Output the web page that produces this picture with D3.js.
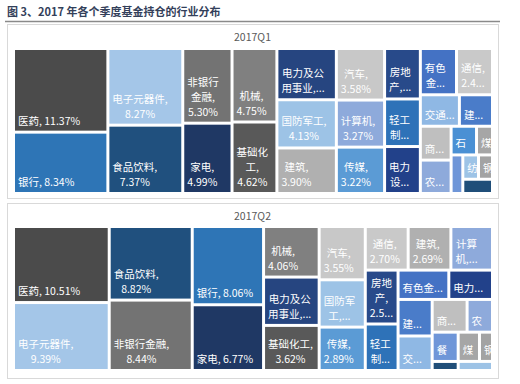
<!DOCTYPE html>
<html>
<head>
<meta charset="utf-8">
<script src="https://cdn.jsdelivr.net/npm/d3@7"></script>
<style>
  body { margin: 0; background: #fff; }
  svg { display: block; }
  text { font-family: "Noto Sans CJK SC", "Noto Sans", sans-serif; }
</style>
</head>
<body>
<svg id="chart" width="520" height="384"></svg>
<script>
const titleText = '图 3、2017 年各个季度基金持仓的行业分布';
const quarterLabels = ['2017Q1', '2017Q2'];

// 2017Q1 holdings by sector (%), in the order the treemap lays them out
const q1Sectors = ['医药', '银行', '电子元器件', '食品饮料', '非银行金融', '家电', '机械', '基础化工',
  '电力及公用事业', '国防军工', '建筑', '汽车', '计算机', '传媒', '房地产', '轻工制造', '电力设备',
  '有色金属', '通信', '交通运输', '建材', '商贸零售', '农林牧渔', '石油石化', '煤炭', '餐饮旅游',
  '纺织服装', '钢铁', '综合'];
const q1Values = [11.37, 8.34, 8.27, 7.37, 5.30, 4.99, 4.75, 4.62,
  4.39, 4.13, 3.90, 3.58, 3.27, 3.22, 2.60, 2.45, 2.42,
  2.41, 2.40, 1.77, 1.50, 1.50, 1.48, 1.05, 0.66, 0.65,
  0.55, 0.49, 0.61];
// cells per strip, and whether each strip is a column (c) or a row (r)
const q1Rows = [2, 2, 2, 2, 3, 3, 3, 2, 2, 2, 2, 1, 2, 1];
const q1Dirs = 'cccccccrrcrcrr';

// 2017Q2
const q2Sectors = ['医药', '电子元器件', '食品饮料', '非银行金融', '银行', '家电', '机械', '电力及公用事业',
  '基础化工', '汽车', '国防军工', '传媒', '通信', '建筑', '计算机', '房地产', '轻工制造', '有色金属',
  '电力设备', '建材', '交通运输', '商贸零售', '农林牧渔', '餐饮旅游', '综合', '煤炭', '钢铁', '纺织服装'];
const q2Values = [10.51, 9.39, 8.82, 8.44, 8.06, 6.77, 4.06, 3.88,
  3.62, 3.55, 3.15, 2.89, 2.70, 2.69, 2.62, 2.55, 2.20, 2.15,
  1.85, 1.80, 1.70, 1.65, 1.20, 1.10, 0.34, 0.90, 0.55, 0.45];
const q2Rows = [2, 2, 2, 3, 3, 3, 2, 2, 2, 2, 2, 2, 1];
const q2Dirs = 'cccccrcrcrcrr';

const sectorColor = d3.scaleOrdinal()
  .domain(['医药', '银行', '电子元器件', '食品饮料', '非银行金融', '家电', '机械', '基础化工',
    '电力及公用事业', '国防军工', '建筑', '汽车', '计算机', '传媒', '房地产', '轻工制造', '电力设备',
    '有色金属', '通信', '交通运输', '建材', '商贸零售', '农林牧渔', '石油石化', '煤炭', '餐饮旅游',
    '纺织服装', '钢铁', '综合'])
  .range(['#4b4b4b', '#2e75b6', '#a4c6e8', '#20507e', '#737373', '#1f3864', '#808080', '#595959',
    '#264580', '#9dc3e6', '#b0b0b0', '#c8c8c8', '#8eaadb', '#5b9bd5', '#284a8a', '#2e72b8', '#22418a',
    '#4472c4', '#c9c9c9', '#8fb8e4', '#4a7cc9', '#bfbfbf', '#8eaadb', '#4a90d4', '#a6a6a6', '#6f96d8',
    '#9dc3e6', '#a3a3a3', '#1f4e79']);

const W = 520, H = 384;
const fontSize = 10.5, lineH = 15;
const pct = (v) => d3.format('.2f')(v) + '%';

const svg = d3.select('#chart');

const ctx = document.createElement('canvas').getContext('2d');
ctx.font = `${fontSize}px "Noto Sans CJK SC"`;
const tw = (s) => ctx.measureText(s).width;

// Excel-like strips: columns eat the width from the left, rows eat the height from the top
const stripTile = (rows, dirs) => (parent, x0, y0, x1, y1) => {
  const nodes = parent.children;
  let rest = parent.value, i = 0;
  rows.forEach((k, r) => {
    const strip = { children: nodes.slice(i, i + k) };
    strip.value = d3.sum(strip.children, (d) => d.value);
    const last = r === rows.length - 1;
    if (dirs[r] === 'r') {
      const y = last ? y1 : y0 + (y1 - y0) * strip.value / rest;
      d3.treemapDice(strip, x0, y0, x1, y);
      y0 = y;
    } else {
      const x = last ? x1 : x0 + (x1 - x0) * strip.value / rest;
      d3.treemapSlice(strip, x0, y0, x, y1);
      x0 = x;
    }
    rest -= strip.value;
    i += k;
  });
};

function fit(s, maxW, ellipsis) {
  if (!ellipsis && tw(s) <= maxW) return s;
  let t = [...s];
  while (t.length > 1 && tw(t.join('') + '...') > maxW) t.pop();
  if (tw(t.join('') + '...') <= maxW) return t.join('') + '...';
  t = [...s];
  while (t.length > 1 && tw(t.join('')) > maxW) t.pop();
  return t.join('');
}

function wrapLabel(d) {
  const cw = d.x1 - d.x0, ch = d.y1 - d.y0;
  if (cw < 10 || ch < 13) return [];
  const maxW = cw - 5;
  const maxLines = Math.max(1, Math.floor((ch - 5) / lineH));
  const chars = [...d.data.name];
  chars[chars.length - 1] += ',';
  const tokens = [...chars, ' ' + pct(d.value)];
  const lines = [];
  let line = '';
  tokens.forEach((t) => {
    const next = line + t;
    if (line && tw(next) > maxW) {
      lines.push(line);
      line = t.trim();
    } else {
      line = line ? next : t.trim();
    }
  });
  if (line) lines.push(line);
  const cut = lines.length > maxLines;
  const out = lines.slice(0, maxLines);
  return out.map((s, i) => fit(s, maxW, cut && i === out.length - 1));
}

svg.append('rect').attr('width', W).attr('height', H).attr('fill', '#fff');

svg.append('text')
  .attr('x', 7)
  .attr('y', 16)
  .attr('font-size', 11)
  .attr('font-weight', 'bold')
  .attr('fill', '#33405a')
  .text(titleText);

svg.append('line')
  .attr('x1', 5).attr('x2', 500)
  .attr('y1', 21.5).attr('y2', 21.5)
  .attr('stroke', '#8a8a8a')
  .attr('stroke-width', 1.5);

const panels = [
  { label: quarterLabels[0], sectors: q1Sectors, values: q1Values, rows: q1Rows, dirs: q1Dirs,
    box: [7, 24, 498, 198], map: [15, 50, 491, 192] },
  { label: quarterLabels[1], sectors: q2Sectors, values: q2Values, rows: q2Rows, dirs: q2Dirs,
    box: [7, 203, 498, 378], map: [15, 228, 491, 369] },
];

panels.forEach((p) => {
  const [bx0, by0, bx1, by1] = p.box;
  svg.append('rect')
    .attr('x', bx0 + 0.5).attr('y', by0 + 0.5)
    .attr('width', bx1 - bx0).attr('height', by1 - by0)
    .attr('fill', '#fff')
    .attr('stroke', '#d9d9d9');

  svg.append('text')
    .attr('x', (bx0 + bx1) / 2)
    .attr('y', by0 + 17)
    .attr('text-anchor', 'middle')
    .attr('font-size', 10.5)
    .attr('fill', '#595959')
    .text(p.label);

  const [mx0, my0, mx1, my1] = p.map;
  const root = d3.hierarchy({ children: p.sectors.map((name, i) => ({ name, value: p.values[i] })) })
    .sum((d) => (d.children ? 0 : d.value));

  d3.treemap()
    .tile(stripTile(p.rows, p.dirs))
    .size([mx1 - mx0, my1 - my0])
    .paddingInner(3)(root);

  const g = svg.append('g').attr('transform', `translate(${mx0},${my0})`);
  const leaves = root.leaves();

  g.selectAll('rect.cell')
    .data(leaves)
    .join('rect')
    .attr('class', 'cell')
    .attr('x', (d) => d.x0)
    .attr('y', (d) => d.y0)
    .attr('width', (d) => d.x1 - d.x0)
    .attr('height', (d) => d.y1 - d.y0)
    .attr('fill', (d) => sectorColor(d.data.name));

  g.selectAll('text.label')
    .data(leaves)
    .join('text')
    .attr('class', 'label')
    .attr('text-anchor', 'middle')
    .attr('font-size', fontSize)
    .attr('fill', '#fff')
    .each(function (d) {
      const lines = wrapLabel(d);
      const bw = d3.max(lines, tw) || 0;
      const cx = d.x0 + 3 + bw / 2;
      const yb = d.y1 - 6;
      d3.select(this)
        .selectAll('tspan')
        .data(lines)
        .join('tspan')
        .attr('x', cx)
        .attr('y', (s, i) => yb - (lines.length - 1 - i) * lineH)
        .text((s) => s);
    });
});
</script>
</body>
</html>
